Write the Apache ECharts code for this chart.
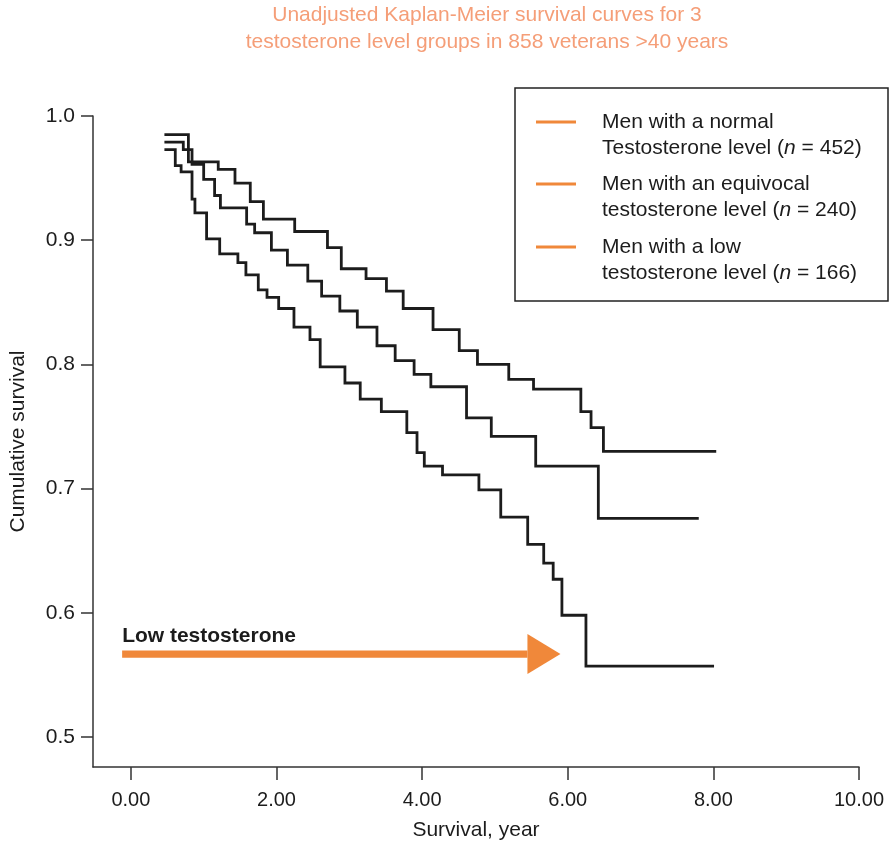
<!DOCTYPE html>
<html>
<head>
<meta charset="utf-8">
<script src="https://cdn.jsdelivr.net/npm/echarts@6/dist/echarts.min.js"></script>
<style>
  html, body { margin: 0; padding: 0; background: #ffffff; }
  #chart { width: 895px; height: 847px; }
</style>
</head>
<body>
<div id="chart"></div>
<script>
// Kaplan-Meier step curves: event times (years) and cumulative survival after each step
const normalTime = [0.48, 0.79, 1.20, 1.43, 1.64, 1.82, 2.25, 2.70, 2.89, 3.23, 3.51, 3.74, 4.15, 4.51, 4.76, 5.19, 5.53, 6.18, 6.32, 6.49, 8.02];
const normalSurv = [0.985, 0.963, 0.957, 0.946, 0.931, 0.917, 0.907, 0.894, 0.877, 0.869, 0.859, 0.845, 0.828, 0.811, 0.800, 0.788, 0.780, 0.762, 0.749, 0.730, 0.730];

const equivTime = [0.48, 0.72, 0.84, 1.00, 1.15, 1.23, 1.59, 1.70, 1.93, 2.15, 2.43, 2.62, 2.87, 3.11, 3.38, 3.63, 3.89, 4.12, 4.61, 4.95, 5.56, 6.42, 7.78];
const equivSurv = [0.979, 0.973, 0.961, 0.949, 0.936, 0.926, 0.913, 0.906, 0.892, 0.880, 0.867, 0.855, 0.843, 0.830, 0.815, 0.803, 0.792, 0.782, 0.757, 0.742, 0.718, 0.676, 0.676];

const lowTime = [0.48, 0.61, 0.69, 0.84, 0.88, 1.04, 1.22, 1.47, 1.58, 1.75, 1.87, 2.03, 2.24, 2.46, 2.60, 2.94, 3.15, 3.44, 3.79, 3.93, 4.03, 4.28, 4.78, 5.08, 5.45, 5.67, 5.80, 5.92, 6.25, 7.99];
const lowSurv = [0.973, 0.960, 0.955, 0.933, 0.922, 0.901, 0.889, 0.882, 0.872, 0.860, 0.854, 0.845, 0.830, 0.820, 0.798, 0.785, 0.772, 0.762, 0.745, 0.729, 0.718, 0.711, 0.699, 0.677, 0.655, 0.640, 0.627, 0.598, 0.557, 0.557];

const groupNames = [
  'Men with a normal\nTestosterone level (n = 452)',
  'Men with an equivocal\ntestosterone level (n = 240)',
  'Men with a low\ntestosterone level (n = 166)'
];
const legendLines = [
  ['Men with a normal', 'Testosterone level ({i|n} = 452)'],
  ['Men with an equivocal', 'testosterone level ({i|n} = 240)'],
  ['Men with a low', 'testosterone level ({i|n} = 166)']
];

const xTicks = [0, 2, 4, 6, 8, 10];
const yTicks = [0.5, 0.6, 0.7, 0.8, 0.9, 1.0];

// arrow annotation in data space: [start, tip] at one survival level
const arrowFrom = [-0.12, 0.5667];
const arrowTo = [5.90, 0.5667];
const arrowText = 'Low testosterone';

const FONT = "'Liberation Sans', Arial, Helvetica, sans-serif";
const ORANGE = '#f0883a';
const INK = '#1c1c1c';

const zip = (t, s) => t.map((v, i) => [v, s[i]]);

const chart = echarts.init(document.getElementById('chart'), null, { renderer: 'canvas' });

const lineSeries = (name, data) => ({
  name: name,
  type: 'line',
  step: 'end',
  data: data,
  symbol: 'none',
  silent: true,
  lineStyle: { color: INK, width: 2.8, cap: 'square', join: 'miter' },
  animation: false
});

chart.setOption({
  animation: false,
  backgroundColor: '#ffffff',
  title: {
    text: 'Unadjusted Kaplan-Meier survival curves for 3\ntestosterone level groups in 858 veterans >40 years',
    left: 482,
    top: -3,
    textAlign: 'center',
    textStyle: { fontFamily: FONT, fontSize: 21, fontWeight: 'normal', color: '#f59e78', lineHeight: 27 }
  },
  grid: { left: 91, right: 36, top: 116, bottom: 80, containLabel: false },
  xAxis: {
    type: 'value',
    min: -0.52,
    max: 10,
    name: 'Survival, year',
    nameLocation: 'middle',
    nameGap: 53,
    nameTextStyle: { fontFamily: FONT, fontSize: 21, color: INK },
    axisLine: { show: true, onZero: false, lineStyle: { color: '#333', width: 1.5 } },
    axisTick: { show: true, customValues: xTicks, length: 13, lineStyle: { color: '#333', width: 1.5 } },
    axisLabel: {
      customValues: xTicks,
      formatter: v => v.toFixed(2),
      margin: 23,
      fontFamily: FONT, fontSize: 20, color: INK
    },
    splitLine: { show: false }
  },
  yAxis: {
    type: 'value',
    min: 0.4758,
    max: 1.0,
    name: 'Cumulative survival',
    nameLocation: 'middle',
    nameGap: 64,
    nameTextStyle: { fontFamily: FONT, fontSize: 21, color: INK },
    axisLine: { show: true, onZero: false, lineStyle: { color: '#333', width: 1.5 } },
    axisTick: { show: true, customValues: yTicks, length: 12, lineStyle: { color: '#333', width: 1.5 } },
    axisLabel: {
      customValues: yTicks,
      formatter: v => v.toFixed(1),
      margin: 18,
      fontFamily: FONT, fontSize: 21, color: INK
    },
    splitLine: { show: false }
  },
  series: [
    lineSeries(groupNames[0], zip(normalTime, normalSurv)),
    lineSeries(groupNames[1], zip(equivTime, equivSurv)),
    lineSeries(groupNames[2], zip(lowTime, lowSurv))
  ]
});

// legend box, arrow and its label
function buildGraphics() {
  const els = [];
  const boxX = 515, boxY = 88, boxW = 373, boxH = 213;
  els.push({
    type: 'rect', silent: true,
    shape: { x: boxX, y: boxY, width: boxW, height: boxH },
    style: { fill: '#fff', stroke: '#222', lineWidth: 1.5 }
  });
  const rowY = [122, 184, 247];
  legendLines.forEach((pair, i) => {
    els.push({
      type: 'line', silent: true,
      shape: { x1: 536, y1: rowY[i], x2: 576, y2: rowY[i] },
      style: { stroke: ORANGE, lineWidth: 3 }
    });
    pair.forEach((txt, j) => {
      els.push({
        type: 'text', silent: true,
        x: 602, y: rowY[i] + j * 26,
        style: {
          text: txt,
          fontFamily: FONT, fontSize: 21, fill: INK,
          verticalAlign: 'middle', align: 'left',
          rich: { i: { fontFamily: FONT, fontSize: 21, fontStyle: 'italic', fill: INK } }
        }
      });
    });
  });

  const p0 = chart.convertToPixel({ gridIndex: 0 }, arrowFrom);
  const p1 = chart.convertToPixel({ gridIndex: 0 }, arrowTo);
  const headLen = 33, headHalf = 20, shaftHalf = 3.7;
  els.push({
    type: 'rect', silent: true,
    shape: { x: p0[0], y: p0[1] - shaftHalf, width: (p1[0] - headLen) - p0[0], height: shaftHalf * 2 },
    style: { fill: ORANGE }
  });
  els.push({
    type: 'polygon', silent: true,
    shape: { points: [[p1[0] - headLen, p1[1] - headHalf], [p1[0], p1[1]], [p1[0] - headLen, p1[1] + headHalf]] },
    style: { fill: ORANGE }
  });
  els.push({
    type: 'text', silent: true,
    x: p0[0], y: p0[1] - 18,
    style: { text: arrowText, fontFamily: FONT, fontSize: 21, fontWeight: 'bold', fill: INK, verticalAlign: 'middle', align: 'left' }
  });
  chart.setOption({ graphic: { elements: els } });
}
buildGraphics();
</script>
</body>
</html>
